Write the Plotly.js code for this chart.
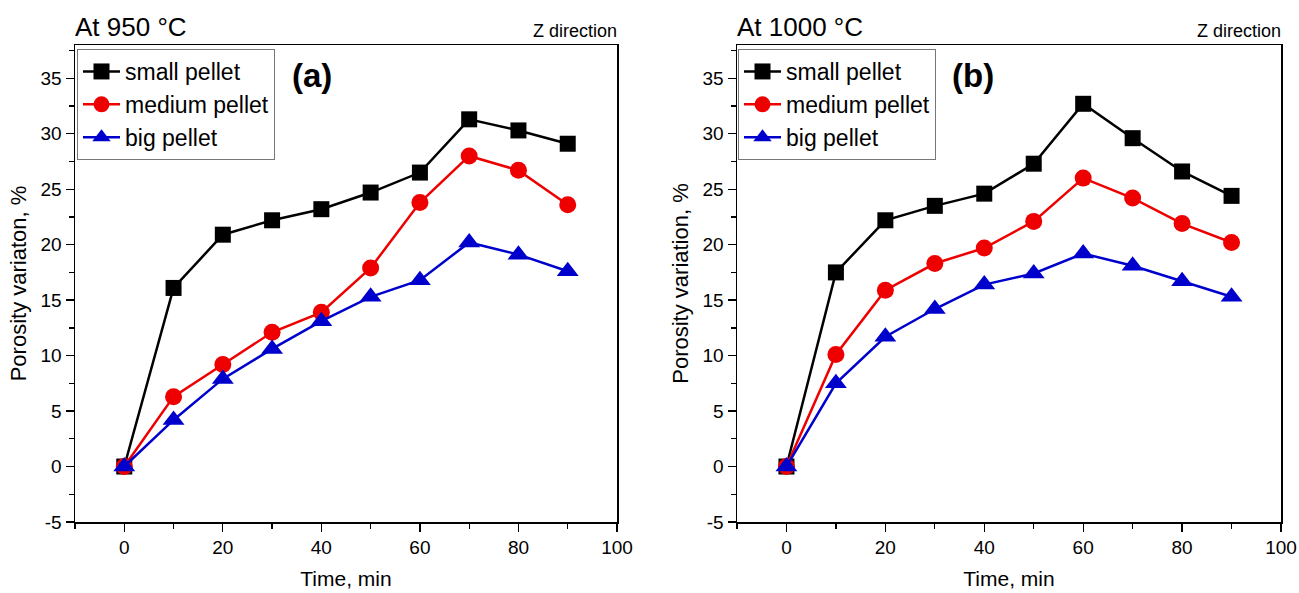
<!DOCTYPE html>
<html><head><meta charset="utf-8">
<script src="https://cdn.plot.ly/plotly-3.0.1.min.js"></script>
<style>html,body{margin:0;padding:0;background:#fff}#chart{width:1299px;height:593px}</style>
</head><body><div id="chart"></div>
<script>
const time = [0, 10, 20, 30, 40, 50, 60, 70, 80, 90];
const seriesNames = ["small pellet", "medium pellet", "big pellet"];
const a_small  = [0, 16.1, 20.9, 22.2, 23.2, 24.7, 26.5, 31.3, 30.3, 29.1];
const a_medium = [0, 6.3, 9.2, 12.1, 13.9, 17.9, 23.8, 28.0, 26.7, 23.6];
const a_big    = [0, 4.2, 7.9, 10.6, 13.1, 15.3, 16.8, 20.2, 19.1, 17.6];
const b_small  = [0, 17.5, 22.2, 23.5, 24.6, 27.3, 32.7, 29.6, 26.6, 24.4];
const b_medium = [0, 10.1, 15.9, 18.3, 19.7, 22.1, 26.0, 24.2, 21.9, 20.2];
const b_big    = [0, 7.5, 11.7, 14.2, 16.4, 17.4, 19.2, 18.1, 16.7, 15.3];
const xTickVals = [0, 20, 40, 60, 80, 100];
const xTickText = ["0", "20", "40", "60", "80", "100"];
const yTickVals = [-5, 0, 5, 10, 15, 20, 25, 30, 35];
const yTickText = ["-5", "0", "5", "10", "15", "20", "25", "30", "35"];

const colors = ["#000000", "#ee0000", "#0000cc"];
const symbols = ["square", "circle", "triangle-up"];
const sizes = [16, 17, 19];
const FONT = "Liberation Sans, Arial, sans-serif";

function mk(y, i, xa, ya, leg) {
  return {x: time, y: y, name: seriesNames[i], type: "scatter", mode: "lines+markers",
    xaxis: xa, yaxis: ya, legend: leg,
    line: {color: colors[i], width: 2.5},
    marker: {color: colors[i], symbol: symbols[i], size: sizes[i]}};
}
const data = [
  mk(a_small, 0, "x", "y", "legend"), mk(a_medium, 1, "x", "y", "legend"), mk(a_big, 2, "x", "y", "legend"),
  mk(b_small, 0, "x2", "y2", "legend2"), mk(b_medium, 1, "x2", "y2", "legend2"), mk(b_big, 2, "x2", "y2", "legend2")
];

function xax(domain, anchor) {
  return {domain: domain, anchor: anchor, range: [-10, 100], tickmode: "array", tickvals: xTickVals, ticktext: xTickText,
    ticks: "outside", ticklen: 8, tickwidth: 1.3, tickcolor: "#000",
    minor: {dtick: 10, tick0: 0, ticks: "outside", ticklen: 5, tickcolor: "#000", tickwidth: 1.3},
    showline: true, linecolor: "#000", linewidth: 1.5, mirror: true, showgrid: false, zeroline: false,
    tickfont: {family: FONT, size: 19, color: "#000"},
    title: {text: "Time, min", font: {family: FONT, size: 21, color: "#000"}, standoff: 14}};
}
function yax(domain, anchor, title) {
  return {domain: domain, anchor: anchor, range: [-5, 38], tickmode: "array", tickvals: yTickVals, ticktext: yTickText,
    ticks: "outside", ticklen: 8, tickwidth: 1.3, tickcolor: "#000",
    minor: {dtick: 2.5, tick0: 0, ticks: "outside", ticklen: 5, tickcolor: "#000", tickwidth: 1.3},
    showline: true, linecolor: "#000", linewidth: 1.5, mirror: true, showgrid: false, zeroline: false,
    tickfont: {family: FONT, size: 19, color: "#000"},
    title: {text: title, font: {family: FONT, size: 22, color: "#000"}, standoff: 8}};
}
const yd = [1 - 522/593, 1 - 45/593];
const legStyle = {bgcolor: "rgba(255,255,255,0)", bordercolor: "#777", borderwidth: 1,
  font: {family: FONT, size: 23, color: "#000"}, xanchor: "left", yanchor: "top",
  itemwidth: 37, tracegroupgap: 0};
const layout = {
  width: 1299, height: 593, margin: {l: 0, r: 0, t: 0, b: 0},
  paper_bgcolor: "#fff", plot_bgcolor: "#fff", showlegend: true,
  xaxis: xax([75/1299, 617/1299], "y"),
  yaxis: yax(yd, "x", "Porosity variaton, %"),
  xaxis2: xax([737/1299, 1281/1299], "y2"),
  yaxis2: yax(yd, "x2", "Porosity variation, %"),
  legend: Object.assign({x: 77/1299, y: 1 - 49/593}, legStyle),
  legend2: Object.assign({x: 738/1299, y: 1 - 49/593}, legStyle),
  annotations: [
    {text: "At 950 °C", xref: "paper", yref: "paper", x: 73/1299, y: 1 - 27/593, xanchor: "left", yanchor: "middle", showarrow: false, font: {family: FONT, size: 26, color: "#000"}},
    {text: "Z direction", xref: "paper", yref: "paper", x: 619/1299, y: 1 - 31/593, xanchor: "right", yanchor: "middle", showarrow: false, font: {family: FONT, size: 18, color: "#000"}},
    {text: "<b>(a)</b>", xref: "paper", yref: "paper", x: 290/1299, y: 1 - 75/593, xanchor: "left", yanchor: "middle", showarrow: false, font: {family: FONT, size: 33, color: "#000"}},
    {text: "At 1000 °C", xref: "paper", yref: "paper", x: 735/1299, y: 1 - 27/593, xanchor: "left", yanchor: "middle", showarrow: false, font: {family: FONT, size: 26, color: "#000"}},
    {text: "Z direction", xref: "paper", yref: "paper", x: 1283/1299, y: 1 - 31/593, xanchor: "right", yanchor: "middle", showarrow: false, font: {family: FONT, size: 18, color: "#000"}},
    {text: "<b>(b)</b>", xref: "paper", yref: "paper", x: 950/1299, y: 1 - 75/593, xanchor: "left", yanchor: "middle", showarrow: false, font: {family: FONT, size: 33, color: "#000"}}
  ]
};
Plotly.newPlot("chart", data, layout, {displayModeBar: false, staticPlot: true});
</script></body></html>
